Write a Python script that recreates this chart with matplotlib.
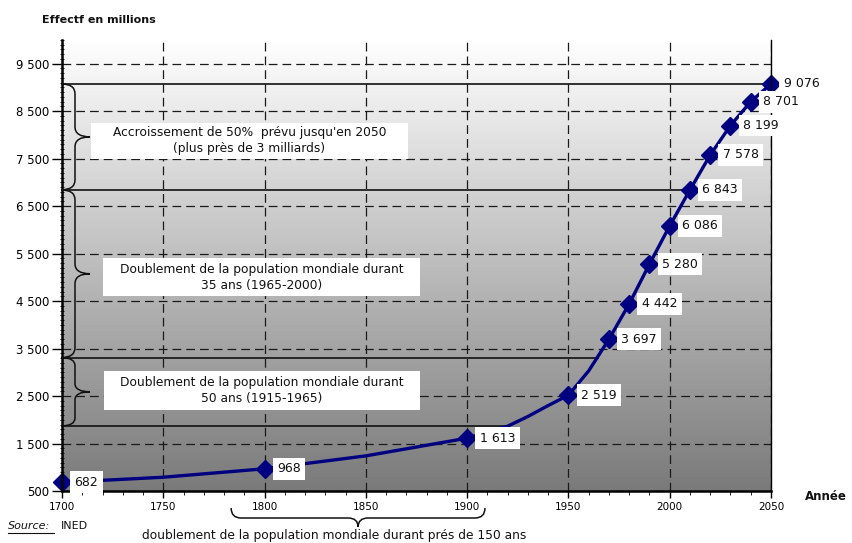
import matplotlib
matplotlib.use("Agg")
import matplotlib.pyplot as plt
import numpy as np
from matplotlib.path import Path
from matplotlib.patches import PathPatch, Rectangle
from matplotlib.transforms import IdentityTransform
from matplotlib.ticker import MultipleLocator, FuncFormatter
from matplotlib.colors import LinearSegmentedColormap

plt.rcParams['font.family'] = ['DejaVu Sans']

# ---- data ----
marked_years = [1700, 1800, 1900, 1950, 1970, 1980, 1990, 2000, 2010, 2020, 2030, 2040, 2050]
marked_pop = [682, 968, 1613, 2519, 3697, 4442, 5280, 6086, 6843, 7578, 8199, 8701, 9076]
curve_years = [1700, 1750, 1800, 1850, 1900, 1910, 1920, 1930, 1940, 1950, 1960, 1970,
               1980, 1990, 2000, 2010, 2020, 2030, 2040, 2050]
curve_pop = [682, 790, 968, 1240, 1613, 1740, 1865, 2070, 2300, 2519, 3030, 3697,
             4442, 5280, 6086, 6843, 7578, 8199, 8701, 9076]
ref_levels = [9076, 6843, 3310, 1870]
ref_ends = [2050, 2010, 1965, 1920]
box_texts = ["Accroissement de 50%  prévu jusqu'en 2050\n(plus près de 3 milliards)",
             "Doublement de la population mondiale durant\n35 ans (1965-2000)",
             "Doublement de la population mondiale durant\n50 ans (1915-1965)"]
bottom_note = "doublement de la population mondiale durant prés de 150 ans"

W, H = 853, 543
fig = plt.figure(figsize=(W / 100, H / 100), dpi=100)
ax = fig.add_axes([62 / W, 52 / H, 709 / W, 451 / H])
ax.set_xlim(1700, 2050)
ax.set_ylim(500, 10000)

# gradient background (white at top, grey at bottom)
cmap = LinearSegmentedColormap.from_list("g", ["#ffffff", "#7a7a7a"])
grad = np.linspace(1, 0, 256).reshape(-1, 1)
ax.imshow(grad, extent=[1700, 2050, 500, 10000], aspect='auto', cmap=cmap,
          origin='lower', zorder=0, vmin=0, vmax=1)
ax.set_xlim(1700, 2050)
ax.set_ylim(500, 10000)

# ticks and grid
ax.xaxis.set_major_locator(MultipleLocator(50))
ax.xaxis.set_minor_locator(MultipleLocator(10))
ax.yaxis.set_major_locator(MultipleLocator(1000, offset=500))
ax.yaxis.set_minor_locator(MultipleLocator(100))
fmt = lambda v, p: f"{v:,.0f}".replace(",", " ")
ax.yaxis.set_major_formatter(FuncFormatter(fmt))
ax.grid(True, which='major', color='#1a1a1a', linestyle=(0, (7, 4)), linewidth=0.9, zorder=1)
ax.set_axisbelow(False)
for gl in ax.get_xgridlines() + ax.get_ygridlines():
    gl.set_zorder(1)
ax.tick_params(axis='y', which='major', length=7, width=1, direction='out', labelsize=8.5, pad=2)
ax.tick_params(axis='y', which='minor', length=3, width=0.6, direction='inout')
ax.tick_params(axis='x', which='major', length=5, width=1, direction='out', labelsize=7.5, pad=3)
ax.tick_params(axis='x', which='minor', length=3, width=0.6, direction='out')
ax.spines['top'].set_visible(False)
ax.spines['right'].set_linewidth(1.0)
ax.spines['left'].set_linewidth(1.8)
ax.spines['bottom'].set_linewidth(1.8)
for s in ax.spines.values():
    s.set_zorder(7)

# reference horizontal lines
ax.hlines(ref_levels, [1700] * len(ref_levels), ref_ends, colors='#111111', linewidth=1.2, zorder=2)

# text boxes
box_x = [(1714.3, 1870.7), (1720.2, 1876.7), (1720.7, 1876.7)]
box_y = [(7502, 8259), (4600, 5399), (2203, 3023)]
for t, (x0, x1), (y0, y1) in zip(box_texts, box_x, box_y):
    ax.add_patch(Rectangle((x0, y0), x1 - x0, y1 - y0, facecolor='white', edgecolor='none', zorder=3))
    ax.text((x0 + x1) / 2, (y0 + y1) / 2, t, ha='center', va='center', fontsize=8.8,
            color='#111111', zorder=4, linespacing=1.35)

# curve + markers
ax.plot(curve_years, curve_pop, color='#000080', linewidth=2.4, zorder=5, solid_capstyle='round')
ax.plot(marked_years, marked_pop, linestyle='none', marker='D', markersize=9,
        color='#000080', zorder=6, clip_on=False)
for x, y in zip(marked_years, marked_pop):
    ax.annotate(fmt(y, None), (x, y), xytext=(9, 0), textcoords='offset points',
                ha='left', va='center', fontsize=9, color='#111111', zorder=8,
                annotation_clip=False,
                bbox=dict(boxstyle='square,pad=0.35', facecolor='white', edgecolor='none'))

# braces (display pixel coords)
def ypix(v):
    return ax.transData.transform((1700, v))[1]

def xpix(v):
    return ax.transData.transform((v, 500))[0]

def vbrace(y_top, y_bot, x0=61, h=14, t=15, r=10):
    yt, yb = ypix(y_top), ypix(y_bot)
    ym = (yt + yb) / 2
    r = min(r, (yt - yb) / 4)
    verts = [(x0, yt), (x0 + h, yt), (x0 + h, yt - r), (x0 + h, ym + r),
             (x0 + h, ym), (x0 + h + t, ym), (x0 + h, ym), (x0 + h, ym - r),
             (x0 + h, yb + r), (x0 + h, yb), (x0, yb)]
    codes = [Path.MOVETO, Path.CURVE3, Path.CURVE3, Path.LINETO,
             Path.CURVE3, Path.CURVE3, Path.CURVE3, Path.CURVE3,
             Path.LINETO, Path.CURVE3, Path.CURVE3]
    fig.patches.append(PathPatch(Path(verts, codes), transform=IdentityTransform(),
                                 fill=False, edgecolor='#111111', linewidth=1.1, figure=fig))

vbrace(ref_levels[0], ref_levels[1])
vbrace(ref_levels[1], ref_levels[2])
vbrace(ref_levels[2], ref_levels[3], r=8)

def hbrace(x_left, x_right, yb0, d=10, t=9, r=10):
    xl, xr = xpix(x_left), xpix(x_right)
    xm = (xl + xr) / 2
    y_end = yb0
    y_h = yb0 - d
    verts = [(xl, y_end), (xl, y_h), (xl + r, y_h), (xm - r, y_h),
             (xm, y_h), (xm, y_h - t), (xm, y_h), (xm + r, y_h),
             (xr - r, y_h), (xr, y_h), (xr, y_end)]
    codes = [Path.MOVETO, Path.CURVE3, Path.CURVE3, Path.LINETO,
             Path.CURVE3, Path.CURVE3, Path.CURVE3, Path.CURVE3,
             Path.LINETO, Path.CURVE3, Path.CURVE3]
    fig.patches.append(PathPatch(Path(verts, codes), transform=IdentityTransform(),
                                 fill=False, edgecolor='#111111', linewidth=1.1, figure=fig))

hbrace(1783.5, 1908.8, H - 508)

# texts
fig.text(42 / W, 1 - 20 / H, "Effectf en millions", fontsize=8, fontweight='bold',
         ha='left', va='center', color='#111111')
fig.text(805 / W, 1 - 497 / H, "Année", fontsize=8.5, fontweight='bold',
         ha='left', va='center', color='#111111')
fig.text(8 / W, 1 - 526 / H, "Source:", fontsize=8, style='italic',
         ha='left', va='center', color='#111111')
fig.add_artist(plt.Line2D([8 / W, 54 / W], [1 - 533 / H, 1 - 533 / H],
                          color='#111111', linewidth=0.8))
fig.text(61 / W, 1 - 526 / H, "INED", fontsize=8, ha='left', va='center', color='#111111')
fig.text(142 / W, 1 - 535 / H, bottom_note, fontsize=8.8, ha='left', va='center',
         color='#111111')

fig.savefig("out.png", dpi=100)
